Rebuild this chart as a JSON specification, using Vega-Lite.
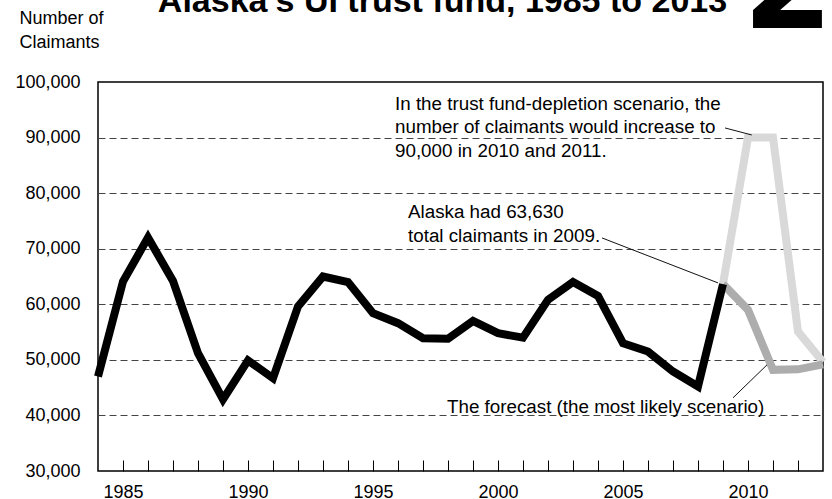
{
  "$schema": "https://vega.github.io/schema/vega-lite/v6.json",
  "width": 725,
  "height": 389,
  "autosize": "none",
  "padding": {"left": 98, "top": 82, "right": 9, "bottom": 28},
  "background": "#ffffff",
  "title": {
    "text": "Alaska's UI trust fund, 1985 to 2013",
    "font": "Liberation Sans",
    "fontSize": 34,
    "fontWeight": "bold",
    "color": "#000000",
    "anchor": "middle",
    "frame": "group",
    "baseline": "alphabetic",
    "dx": -18,
    "offset": -122
  },
  "config": {
    "view": {"stroke": "#000000", "strokeWidth": 1.5},
    "font": "Liberation Sans",
    "text": {"font": "Liberation Sans"}
  },
  "resolve": {"axis": {"x": "independent"}},
  "datasets": {
    "claimants": [
      {"year": 1984, "claimants": 47000, "series": "Actual"},
      {"year": 1985, "claimants": 64100, "series": "Actual"},
      {"year": 1986, "claimants": 72000, "series": "Actual"},
      {"year": 1987, "claimants": 64200, "series": "Actual"},
      {"year": 1988, "claimants": 51200, "series": "Actual"},
      {"year": 1989, "claimants": 42900, "series": "Actual"},
      {"year": 1990, "claimants": 49900, "series": "Actual"},
      {"year": 1991, "claimants": 46700, "series": "Actual"},
      {"year": 1992, "claimants": 59600, "series": "Actual"},
      {"year": 1993, "claimants": 65000, "series": "Actual"},
      {"year": 1994, "claimants": 64000, "series": "Actual"},
      {"year": 1995, "claimants": 58400, "series": "Actual"},
      {"year": 1996, "claimants": 56600, "series": "Actual"},
      {"year": 1997, "claimants": 53900, "series": "Actual"},
      {"year": 1998, "claimants": 53800, "series": "Actual"},
      {"year": 1999, "claimants": 57000, "series": "Actual"},
      {"year": 2000, "claimants": 54800, "series": "Actual"},
      {"year": 2001, "claimants": 54000, "series": "Actual"},
      {"year": 2002, "claimants": 60800, "series": "Actual"},
      {"year": 2003, "claimants": 64000, "series": "Actual"},
      {"year": 2004, "claimants": 61500, "series": "Actual"},
      {"year": 2005, "claimants": 53000, "series": "Actual"},
      {"year": 2006, "claimants": 51500, "series": "Actual"},
      {"year": 2007, "claimants": 47900, "series": "Actual"},
      {"year": 2008, "claimants": 45200, "series": "Actual"},
      {"year": 2009, "claimants": 63630, "series": "Actual"},
      {"year": 2009, "claimants": 63630, "series": "Forecast"},
      {"year": 2010, "claimants": 59000, "series": "Forecast"},
      {"year": 2011, "claimants": 48200, "series": "Forecast"},
      {"year": 2012, "claimants": 48300, "series": "Forecast"},
      {"year": 2013, "claimants": 49200, "series": "Forecast"},
      {"year": 2009, "claimants": 63630, "series": "Depletion"},
      {"year": 2010, "claimants": 90000, "series": "Depletion"},
      {"year": 2011, "claimants": 90000, "series": "Depletion"},
      {"year": 2012, "claimants": 55100, "series": "Depletion"},
      {"year": 2013, "claimants": 49600, "series": "Depletion"}
    ],
    "notes": [
      {"year": 1995.88, "claimants": 95000, "note": "In the trust fund-depletion scenario, the\nnumber of claimants would increase to\n90,000 in 2010 and 2011."},
      {"year": 1996.4, "claimants": 75450, "note": "Alaska had 63,630\ntotal claimants in 2009."},
      {"year": 1997.96, "claimants": 40470, "note": "The forecast (the most likely scenario)"}
    ],
    "pointers": [
      {"year": 2009.08, "claimants": 91730, "year2": 2010.15, "claimants2": 90470},
      {"year": 2004.16, "claimants": 71940, "year2": 2008.8, "claimants2": 63850},
      {"year": 2009.4, "claimants": 43170, "year2": 2010.76, "claimants2": 49100}
    ],
    "badge": [
      {"year": 2011.6, "claimants": 109700, "glyph": "2"}
    ]
  },
  "layer": [
    {
      "data": {"name": "claimants"},
      "transform": [{"filter": "datum.series === 'Depletion'"}],
      "mark": {"type": "line", "color": "#d9d9d9", "strokeWidth": 8, "strokeJoin": "miter"},
      "encoding": {
        "x": {
          "field": "year", "type": "quantitative",
          "scale": {"domain": [1984, 2013], "nice": false, "zero": false},
          "axis": {
            "orient": "bottom",
            "title": null,
            "values": [1985, 1986, 1987, 1988, 1989, 1990, 1991, 1992, 1993, 1994, 1995, 1996, 1997, 1998, 1999, 2000, 2001, 2002, 2003, 2004, 2005, 2006, 2007, 2008, 2009, 2010, 2011, 2012],
            "labels": false,
            "grid": false,
            "domain": false,
            "ticks": true,
            "tickSize": -11,
            "tickColor": "#000000",
            "tickWidth": 1
          }
        },
        "y": {
          "field": "claimants", "type": "quantitative",
          "scale": {"domain": [30000, 100000], "nice": false, "zero": false},
          "axis": {
            "values": [30000, 40000, 50000, 60000, 70000, 80000, 90000, 100000],
            "format": ",d",
            "grid": true,
            "gridColor": "#444444",
            "gridDash": [7, 4],
            "gridWidth": 1,
            "gridOpacity": {"condition": {"test": "datum.value === 30000 || datum.value === 100000", "value": 0}, "value": 1},
            "domain": false,
            "ticks": false,
            "labelOverlap": false,
            "labelFont": "Liberation Sans",
            "labelFontSize": 18,
            "labelColor": "#000000",
            "labelPadding": 18,
            "labelFlush": false,
            "title": ["Number of", "Claimants"],
            "titleFont": "Liberation Sans",
            "titleFontSize": 18,
            "titleFontWeight": "normal",
            "titleColor": "#000000",
            "titleAngle": 0,
            "titleAlign": "left",
            "titleBaseline": "alphabetic",
            "titleLineHeight": 24,
            "titleX": -79,
            "titleY": -59
          }
        }
      }
    },
    {
      "data": {"name": "claimants"},
      "transform": [{"filter": "datum.series === 'Forecast'"}],
      "mark": {"type": "line", "color": "#adadad", "strokeWidth": 8, "strokeJoin": "miter"},
      "encoding": {
        "x": {
          "field": "year", "type": "quantitative",
          "axis": {
            "orient": "bottom",
            "title": null,
            "values": [1985, 1990, 1995, 2000, 2005, 2010],
            "format": "d",
            "labelOverlap": false,
            "grid": false,
            "domain": false,
            "ticks": false,
            "tickSize": 0,
            "labelFont": "Liberation Sans",
            "labelFontSize": 18,
            "labelColor": "#000000",
            "labelPadding": 12,
            "labelBaseline": "top",
            "labelFlush": false
          }
        },
        "y": {"field": "claimants", "type": "quantitative"}
      }
    },
    {
      "data": {"name": "claimants"},
      "transform": [{"filter": "datum.series === 'Actual'"}],
      "mark": {"type": "line", "color": "#000000", "strokeWidth": 8, "strokeJoin": "miter"},
      "encoding": {
        "x": {"field": "year", "type": "quantitative", "axis": null},
        "y": {"field": "claimants", "type": "quantitative"}
      }
    },
    {
      "data": {"name": "pointers"},
      "mark": {"type": "rule", "color": "#111111", "strokeWidth": 1},
      "encoding": {
        "x": {"field": "year", "type": "quantitative", "axis": null},
        "y": {"field": "claimants", "type": "quantitative"},
        "x2": {"field": "year2"},
        "y2": {"field": "claimants2"}
      }
    },
    {
      "data": {"name": "notes"},
      "mark": {"type": "text", "align": "left", "baseline": "alphabetic", "fontSize": 18.8, "font": "Liberation Sans", "color": "#000000", "lineBreak": "\n", "lineHeight": 23.5},
      "encoding": {
        "x": {"field": "year", "type": "quantitative", "axis": null},
        "y": {"field": "claimants", "type": "quantitative"},
        "text": {"field": "note"}
      }
    },
    {
      "data": {"name": "badge"},
      "mark": {"type": "text", "align": "center", "baseline": "alphabetic", "fontSize": 130, "fontWeight": "bold", "font": "DejaVu Sans", "color": "#000000", "clip": false},
      "encoding": {
        "x": {"field": "year", "type": "quantitative", "axis": null},
        "y": {"field": "claimants", "type": "quantitative"},
        "text": {"field": "glyph"}
      }
    }
  ]
}
